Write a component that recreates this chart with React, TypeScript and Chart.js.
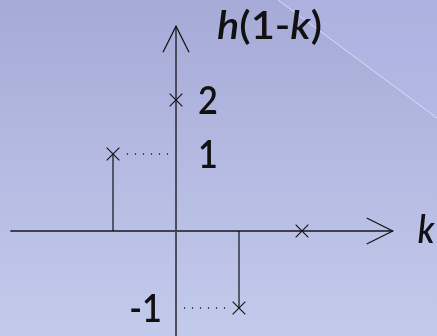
import React, { useEffect, useRef } from "react";
import { Chart, registerables } from "chart.js";

Chart.register(...registerables);

// ---- data ----
const kValues = [-1, 0, 1, 2];
const hValues = [1, 1.7, -1, 0];
const yTickValues = [1.7, 1, -1];
const yTickLabels = ["2", "1", "-1"];
const xAxisLabel = "k";
const yTitleParts = [
  { text: "h", italic: true },
  { text: "(1-", italic: false },
  { text: "k", italic: true },
  { text: ")", italic: false },
];
const xRange = [-2.794, 4.143];
const yRange = [-1.364, 3.0];
const xAxisSpan = [-2.63, 3.44];
const yAxisTop = 2.66;

const FONT = "Lato, Calibri, Carlito, sans-serif";
const FONT_PX = 39;
const WEIGHT = "600";
const SX = 0.88;
const TITLE_W = 105;

const decor = {
  id: "decor",
  beforeDraw(chart: any) {
    const { ctx, width, height } = chart;
    ctx.save();
    const g = ctx.createLinearGradient(0, 0, 0, height);
    g.addColorStop(0, "#a6aad7");
    g.addColorStop(1, "#c3cbec");
    ctx.fillStyle = g;
    ctx.fillRect(0, 0, width, height);
    ctx.beginPath();
    ctx.moveTo(278, 0);
    ctx.lineTo(width, 0);
    ctx.lineTo(width, 118);
    ctx.closePath();
    ctx.fillStyle = "rgba(185,192,240,0.35)";
    ctx.fill();
    ctx.beginPath();
    ctx.moveTo(278, 0);
    ctx.lineTo(width, 118);
    ctx.strokeStyle = "rgba(235,238,255,0.7)";
    ctx.lineWidth = 1;
    ctx.stroke();
    ctx.restore();
  },
  beforeDatasetsDraw(chart: any) {
    const { ctx } = chart;
    const xs = chart.scales.x;
    const ys = chart.scales.y;
    const x0 = xs.getPixelForValue(0);
    const y0 = ys.getPixelForValue(0);
    const xl = xs.getPixelForValue(xAxisSpan[0]);
    const xr = xs.getPixelForValue(xAxisSpan[1]);
    const yt = ys.getPixelForValue(yAxisTop);
    const yb = chart.height;
    ctx.save();
    ctx.strokeStyle = "#404050";
    ctx.lineWidth = 1.8;
    ctx.beginPath();
    ctx.moveTo(xl, y0);
    ctx.lineTo(xr, y0);
    ctx.moveTo(x0, yb);
    ctx.lineTo(x0, yt);
    ctx.stroke();
    ctx.strokeStyle = "#111";
    ctx.lineWidth = 1.2;
    ctx.beginPath();
    ctx.moveTo(xr - 26, y0 - 13);
    ctx.lineTo(xr, y0);
    ctx.lineTo(xr - 26, y0 + 13);
    ctx.moveTo(x0 - 13, yt + 26);
    ctx.lineTo(x0, yt);
    ctx.lineTo(x0 + 13, yt + 26);
    ctx.stroke();
    ctx.restore();
  },
  afterDraw(chart: any) {
    const { ctx } = chart;
    const xs = chart.scales.x;
    const ys = chart.scales.y;
    const x0 = xs.getPixelForValue(0);
    const y0 = ys.getPixelForValue(0);
    const xr = xs.getPixelForValue(xAxisSpan[1]);
    const fontFor = (italic: boolean) => `${italic ? "italic " : ""}${WEIGHT} ${FONT_PX}px ${FONT}`;
    const drawText = (t: string, x: number, y: number, italic: boolean, align: string, sx: number) => {
      ctx.save();
      ctx.font = fontFor(italic);
      ctx.textAlign = align;
      ctx.textBaseline = "alphabetic";
      ctx.fillStyle = "#111";
      ctx.translate(x, y);
      ctx.scale(sx, 1);
      ctx.fillText(t, 0, 0);
      ctx.restore();
    };
    const measure = (t: string, italic: boolean) => {
      ctx.save();
      ctx.font = fontFor(italic);
      const w = ctx.measureText(t).width;
      ctx.restore();
      return w;
    };
    yTickValues.forEach((v, i) => {
      const py = ys.getPixelForValue(v) + 14;
      if (v > 0) drawText(yTickLabels[i], x0 + 22, py, false, "left", SX);
      else drawText(yTickLabels[i], x0 - 14, py, false, "right", SX);
    });
    drawText(xAxisLabel, xr + 25, y0 + 12, true, "left", SX);
    const total = yTitleParts.reduce((s, p) => s + measure(p.text, p.italic), 0);
    const tsx = TITLE_W / total;
    let tx = x0 + 41;
    yTitleParts.forEach((p) => {
      drawText(p.text, tx, 39, p.italic, "left", tsx);
      tx += measure(p.text, p.italic) * tsx;
    });
  },
};

export default function App() {
  const ref = useRef<HTMLCanvasElement | null>(null);
  useEffect(() => {
    document.body.style.margin = "0";
    if (!ref.current) return;
    const pts = kValues.map((k, i) => ({ k, v: hValues[i] })).filter((p) => p.v !== 0 && p.k !== 0);
    const stems = pts.map((p) => ({
      type: "line" as const,
      data: [
        { x: p.k, y: 0 },
        { x: p.k, y: p.v },
      ],
      borderColor: "#111",
      borderWidth: 1.2,
      pointRadius: 0,
      showLine: true,
    }));
    const dots = pts.map((p) => ({
      type: "line" as const,
      data: [
        { x: p.k + (p.k < 0 ? 0.22 : -0.22), y: p.v },
        { x: 0.06 * (p.k < 0 ? -1 : 1), y: p.v },
      ],
      borderColor: "#222",
      borderWidth: 1.4,
      borderDash: [1.2, 6.8],
      pointRadius: 0,
      showLine: true,
    }));
    const chart = new Chart(ref.current, {
      type: "scatter",
      data: {
        datasets: [
          ...stems,
          ...dots,
          {
            type: "scatter" as const,
            data: kValues.map((k, i) => ({ x: k, y: hValues[i] })),
            pointStyle: "crossRot",
            pointRadius: 9,
            borderColor: "#111",
            borderWidth: 1.1,
            backgroundColor: "#111",
          },
        ] as any,
      },
      options: {
        responsive: false,
        animation: false,
        layout: { padding: 0, autoPadding: false },
        plugins: { legend: { display: false }, tooltip: { enabled: false } },
        scales: {
          x: { type: "linear", min: xRange[0], max: xRange[1], display: false },
          y: { type: "linear", min: yRange[0], max: yRange[1], display: false },
        },
      },
      plugins: [decor],
    });
    return () => chart.destroy();
  }, []);
  return <canvas ref={ref} width={437} height={336} style={{ display: "block" }} />;
}
